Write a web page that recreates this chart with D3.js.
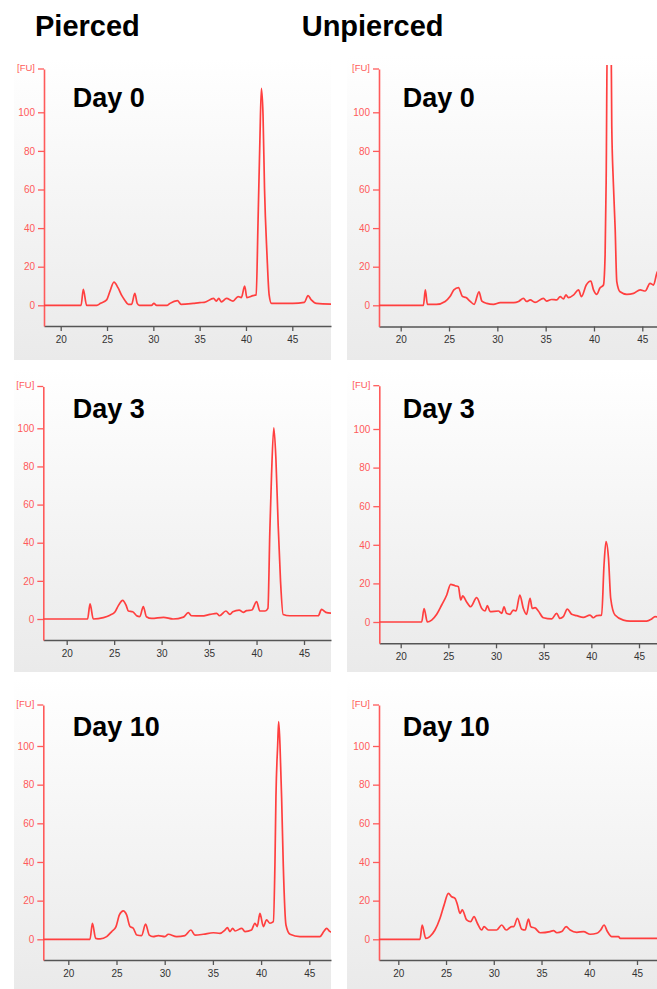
<!DOCTYPE html>
<html>
<head>
<meta charset="utf-8">
<script src="https://cdn.jsdelivr.net/npm/d3@7"></script>
<style>
  html, body { margin: 0; padding: 0; background: #fff; }
  svg { display: block; }
</style>
</head>
<body>
<div id="chart"></div>
<script>
// column headings and panel labels
const columns = ["Pierced", "Unpierced"];
const days = ["Day 0", "Day 3", "Day 10"];
const xTicks = [20, 25, 30, 35, 40, 45];
const yTicks = [0, 20, 40, 60, 80, 100];

// traces: [time (s), fluorescence (FU)]
const piercedDay0 = [
  [17, 0], [22.2, 0], [22.44, 8.3], [22.8, 0], [23.9, 0], [24.3, 1], [24.96, 2.8], [25.3, 7],
  [25.75, 12], [26.2, 9], [26.6, 5], [26.9, 2.8], [27.3, 0.5], [27.65, 0.5], [28.0, 6.2],
  [28.26, 1], [28.5, 0], [29.8, 0], [30.06, 1], [30.35, 0], [31.5, 0], [31.8, 1], [32.6, 2.4],
  [33.0, 0.5], [34.3, 1], [35.0, 1.4], [35.5, 1.5], [36.5, 3.6], [36.8, 2.2], [37.06, 3.6],
  [37.35, 1.8], [37.9, 3.6], [38.6, 2.2], [39.15, 4.5], [39.5, 4], [39.86, 10], [40.1, 4],
  [40.76, 5], [41.1, 5.4], [41.3, 43], [41.5, 85], [41.66, 112.4], [41.84, 98.6], [42.0, 60.6],
  [42.27, 26], [42.5, 5.4], [42.75, 1], [44.0, 1], [45.07, 1], [46.3, 1.5], [46.7, 5],
  [47.05, 2.8], [47.6, 1], [50, 0.5]
];
const unpiercedDay0 = [
  [17, 0], [22.35, 0], [22.55, 8], [22.76, 0.5], [23.7, 0.5], [24.6, 2], [25.1, 4.5], [25.5, 8],
  [25.97, 9.2], [26.4, 4.5], [26.76, 4], [27.2, 2], [27.6, 0.5], [28.1, 7], [28.4, 2.2],
  [28.9, 1], [29.6, 0.5], [30.3, 1.4], [31.7, 1.4], [32.2, 2], [32.7, 3.6], [33.04, 2],
  [33.4, 2.8], [33.9, 1.5], [34.77, 3.6], [35.1, 2.2], [35.6, 3], [36.15, 2.8], [36.5, 4.5],
  [36.84, 3.3], [37.1, 5.4], [37.35, 4], [37.9, 5.4], [38.4, 8], [38.7, 4.5], [39.2, 10.5],
  [39.67, 12.6], [39.95, 8], [40.3, 5.7], [40.6, 8.8], [40.98, 10.5], [41.15, 26], [41.26, 64],
  [41.4, 150], [41.75, 150], [41.84, 93], [42.0, 64], [42.19, 40], [42.36, 12.3], [42.7, 7],
  [43.4, 5.7], [44.1, 6.2], [44.78, 8], [45.3, 7.4], [45.8, 11.4], [46.16, 10.5], [46.5, 16.6],
  [47, 20]
];
const piercedDay3 = [
  [17, 0], [22.2, 0], [22.46, 7.9], [22.8, 0], [23.86, 0.7], [24.56, 2], [25.1, 3.8], [25.44, 7],
  [25.9, 9.8], [26.25, 7.3], [26.5, 4.2], [26.95, 3.8], [27.37, 1.7], [27.7, 1.2], [28.07, 6.5],
  [28.4, 1.2], [28.95, 0.3], [30.2, 0.9], [31.2, 0], [32.3, 1], [32.8, 3.3], [33.16, 1.7],
  [34.2, 1.6], [35.1, 2.4], [35.8, 3], [36.1, 1.7], [36.77, 4.2], [37.2, 2.4], [37.5, 3.8],
  [38.17, 4.7], [38.6, 3.5], [38.95, 4.4], [39.5, 4.7], [40.0, 9.1], [40.35, 4.2], [40.9, 4.2],
  [41.2, 5.6], [41.4, 45.8], [41.58, 75.5], [41.82, 100.3], [42.04, 84], [42.28, 49],
  [42.53, 19.6], [42.8, 2.4], [43.5, 1.7], [46.5, 1.7], [46.85, 5], [47.3, 3.5], [48, 3]
];
const unpiercedDay3 = [
  [17, 0], [22.2, 0], [22.45, 7], [22.8, 0], [23.25, 1], [23.78, 4], [24.3, 8.8], [24.83, 14],
  [25.24, 19.5], [25.7, 18.8], [26.05, 18.3], [26.3, 11.4], [26.5, 13.5], [26.9, 10.5],
  [27.34, 7.9], [27.97, 12.6], [28.5, 7], [28.85, 5.7], [29.1, 8.5], [29.37, 5.4], [30.25, 5.7],
  [30.6, 4.5], [30.84, 7.8], [31.1, 4.5], [31.47, 4], [31.8, 6.2], [32.1, 5.7], [32.5, 14],
  [32.87, 7], [33.2, 4], [33.57, 12.3], [33.8, 7], [34.1, 7.4], [34.44, 5.7], [34.97, 2.2],
  [35.84, 1.6], [36.36, 4.5], [36.7, 1.9], [37.06, 2.8], [37.48, 6.7], [37.94, 4], [38.46, 3.3],
  [39.16, 2.4], [39.86, 3.6], [40.2, 2.2], [40.56, 3.3], [41.08, 3.6], [41.33, 29.5],
  [41.54, 41.6], [41.8, 33], [42.03, 12.3], [42.48, 3.6], [43.36, 1], [44.06, 0.5], [45.8, 0.5],
  [46.33, 1.6], [46.68, 2.8], [47.2, 2.2]
];
const piercedDay10 = [
  [17, 0], [22.25, 0], [22.5, 8.3], [22.84, 0.5], [23.3, 0.2], [23.98, 1.4], [24.5, 4],
  [24.95, 6.6], [25.3, 12.6], [25.7, 14.7], [26.05, 12.6], [26.4, 6.6], [26.74, 5.7], [27.1, 2.2],
  [27.6, 1.9], [28.02, 7.8], [28.4, 2.2], [28.8, 1.4], [29.34, 1.9], [30.03, 1.4], [30.37, 2.6],
  [31.24, 1.4], [32.1, 1.9], [32.72, 4.8], [33.14, 2.2], [34.0, 2.6], [35.04, 3.4], [35.73, 3.1],
  [36.25, 4.8], [36.5, 6], [36.77, 4], [37.05, 5.7], [37.3, 4.3], [38.0, 5.7], [38.33, 4],
  [39.0, 4.8], [39.36, 8.3], [39.6, 6.6], [39.88, 13.4], [40.23, 6.6], [40.57, 10], [40.92, 8.3],
  [41.27, 9.1], [41.44, 40], [41.54, 73.8], [41.72, 100.5], [41.82, 112.6], [41.96, 100.5],
  [42.13, 73], [42.3, 38.4], [42.58, 7.4], [43.0, 2.6], [44.03, 1.4], [46.1, 1.4], [46.5, 4],
  [46.8, 5.7], [47.14, 4], [48, 3]
];
const unpiercedDay10 = [
  [17, 0], [22.27, 0], [22.5, 7.4], [22.87, 0.5], [23.3, 1.4], [23.84, 4.8], [24.37, 10.9],
  [24.8, 17.8], [25.24, 23.8], [25.6, 22], [25.94, 21.2], [26.2, 17.8], [26.46, 13.4],
  [26.7, 15.2], [27.16, 10], [27.58, 9.1], [27.93, 11.7], [28.28, 8.3], [28.74, 4.8],
  [28.98, 6.6], [29.43, 4.8], [30.3, 4.8], [30.83, 7.4], [31.29, 4.8], [31.88, 6.6],
  [32.1, 6.6], [32.47, 10.9], [32.93, 5.2], [33.28, 4.8], [33.63, 10.5], [33.87, 6.6],
  [34.33, 5.7], [34.85, 3.4], [35.9, 4], [36.25, 4.5], [36.6, 3.4], [37.12, 4], [37.58, 6.6],
  [38.0, 4.8], [38.7, 3.6], [39.4, 4], [40.1, 2.6], [40.8, 3.1], [41.2, 4.8], [41.55, 7.4],
  [41.9, 4], [42.36, 1.4], [43.06, 1.4], [43.24, 0.5], [48, 0.5]
];

const traces = [
  [piercedDay0, unpiercedDay0],
  [piercedDay3, unpiercedDay3],
  [piercedDay10, unpiercedDay10]
];

// where each scanned panel sits on the page (pixels)
const panelBoxes = [
  [
    { box: [14, 58, 331, 360], x20: 60.7, x45: 292.3, y0: 305.3, y100: 112.3, top: 69, bottom: 326, left: 44, right: 331, lx: 72.7, ly: 107 },
    { box: [347, 55, 657, 360], x20: 400.7, x45: 642.3, y0: 305.3, y100: 112.3, top: 69, bottom: 326.5, left: 379, right: 657, lx: 402.7, ly: 107 }
  ],
  [
    { box: [14, 368, 331, 672], x20: 66.7, x45: 304, y0: 619, y100: 428.3, top: 386.5, bottom: 640, left: 43.3, right: 331, lx: 72.7, ly: 418.3 },
    { box: [347, 368, 657, 672], x20: 400.7, x45: 639, y0: 622, y100: 429, top: 385.7, bottom: 643.3, left: 379.3, right: 657, lx: 402.7, ly: 418.3 }
  ],
  [
    { box: [14, 678, 331, 989], x20: 68.3, x45: 309.3, y0: 939.3, y100: 746, top: 705, bottom: 960, left: 43.3, right: 331, lx: 72.7, ly: 735.7 },
    { box: [347, 678, 657, 989], x20: 398.3, x45: 637, y0: 939.3, y100: 746, top: 705, bottom: 960, left: 379, right: 657, lx: 402.7, ly: 735.7 }
  ]
];

const width = 657, height = 989;
const RED = "#ff3f3f";
const AXIS_RED = "#ff5a5a";

const svg = d3.select("#chart")
  .append("svg")
    .attr("width", width)
    .attr("height", height);

const defs = svg.append("defs");
const grad = defs.append("linearGradient")
    .attr("id", "panelBg")
    .attr("x1", 0).attr("y1", 0).attr("x2", 0).attr("y2", 1);
grad.append("stop").attr("offset", "0%").attr("stop-color", "#ffffff");
grad.append("stop").attr("offset", "100%").attr("stop-color", "#eaeaea");

// column titles
const titleX = [35, 301.7];
columns.forEach((c, i) => {
  svg.append("text")
    .attr("x", titleX[i])
    .attr("y", 35.7)
    .attr("font-family", "'Liberation Sans', Arial, sans-serif")
    .attr("font-weight", "bold")
    .attr("font-size", "29px")
    .attr("fill", "#000")
    .text(c);
});

function drawPanel(data, p, label, id) {
  const [bx0, by0, bx1, by1] = p.box;
  const g = svg.append("g");

  g.append("rect")
    .attr("x", bx0).attr("y", by0)
    .attr("width", bx1 - bx0).attr("height", by1 - by0)
    .attr("fill", "url(#panelBg)");

  // scales fixed by two ticks, then widened to the drawn axis length
  const x0 = d3.scaleLinear().domain([20, 45]).range([p.x20, p.x45]);
  const x = d3.scaleLinear()
    .domain([x0.invert(p.left), x0.invert(p.right)])
    .range([p.left, p.right]);
  const y0 = d3.scaleLinear().domain([0, 100]).range([p.y0, p.y100]);
  const y = d3.scaleLinear()
    .domain([y0.invert(p.bottom), y0.invert(p.top)])
    .range([p.bottom, p.top]);

  // x axis
  const axisX = g.append("g")
    .attr("transform", "translate(0," + p.bottom + ")")
    .call(d3.axisBottom(x).tickValues(xTicks).tickSize(5).tickSizeOuter(0));
  axisX.select(".domain").attr("stroke", "#555").attr("stroke-width", 1.6);
  axisX.selectAll(".tick line").attr("stroke", "#555").attr("stroke-width", 1.3);
  axisX.selectAll(".tick text")
    .attr("fill", "#333")
    .attr("font-family", "'Liberation Sans', Arial, sans-serif")
    .attr("font-size", "10px")
    .attr("dy", "0.85em");

  // y axis
  const axisY = g.append("g")
    .attr("transform", "translate(" + p.left + ",0)")
    .call(d3.axisLeft(y).tickValues(yTicks).tickSize(6).tickSizeOuter(0));
  axisY.select(".domain").attr("stroke", AXIS_RED).attr("stroke-width", 1.6);
  axisY.selectAll(".tick line").attr("stroke", AXIS_RED).attr("stroke-width", 1.3);
  axisY.selectAll(".tick text")
    .attr("fill", AXIS_RED)
    .attr("font-family", "'Liberation Sans', Arial, sans-serif")
    .attr("font-size", "10px")
    .attr("x", -9);

  // unit tick at the top of the y axis
  axisY.append("line")
    .attr("x1", -6).attr("x2", 0)
    .attr("y1", p.top).attr("y2", p.top)
    .attr("stroke", AXIS_RED).attr("stroke-width", 1.3);
  axisY.append("text")
    .attr("x", -9).attr("y", p.top)
    .attr("dy", "0.2em")
    .attr("text-anchor", "end")
    .attr("fill", AXIS_RED)
    .attr("font-family", "'Liberation Sans', Arial, sans-serif")
    .attr("font-size", "9.5px")
    .text("[FU]");

  defs.append("clipPath").attr("id", "clip" + id)
    .append("rect")
      .attr("x", p.left).attr("y", p.top - 4)
      .attr("width", p.right - p.left).attr("height", p.bottom - p.top + 4);

  const line = d3.line()
    .x(d => x(d[0]))
    .y(d => y(d[1]))
    .curve(d3.curveMonotoneX);

  g.append("path")
    .datum(data)
    .attr("clip-path", "url(#clip" + id + ")")
    .attr("fill", "none")
    .attr("stroke", RED)
    .attr("stroke-width", 1.7)
    .attr("stroke-linejoin", "round")
    .attr("d", line);

  g.append("text")
    .attr("x", p.lx)
    .attr("y", p.ly)
    .attr("font-family", "'Liberation Sans', Arial, sans-serif")
    .attr("font-weight", "bold")
    .attr("font-size", "27px")
    .attr("fill", "#000")
    .text(label);
}

traces.forEach((row, r) => {
  row.forEach((data, c) => {
    drawPanel(data, panelBoxes[r][c], days[r], r + "_" + c);
  });
});
</script>
</body>
</html>
